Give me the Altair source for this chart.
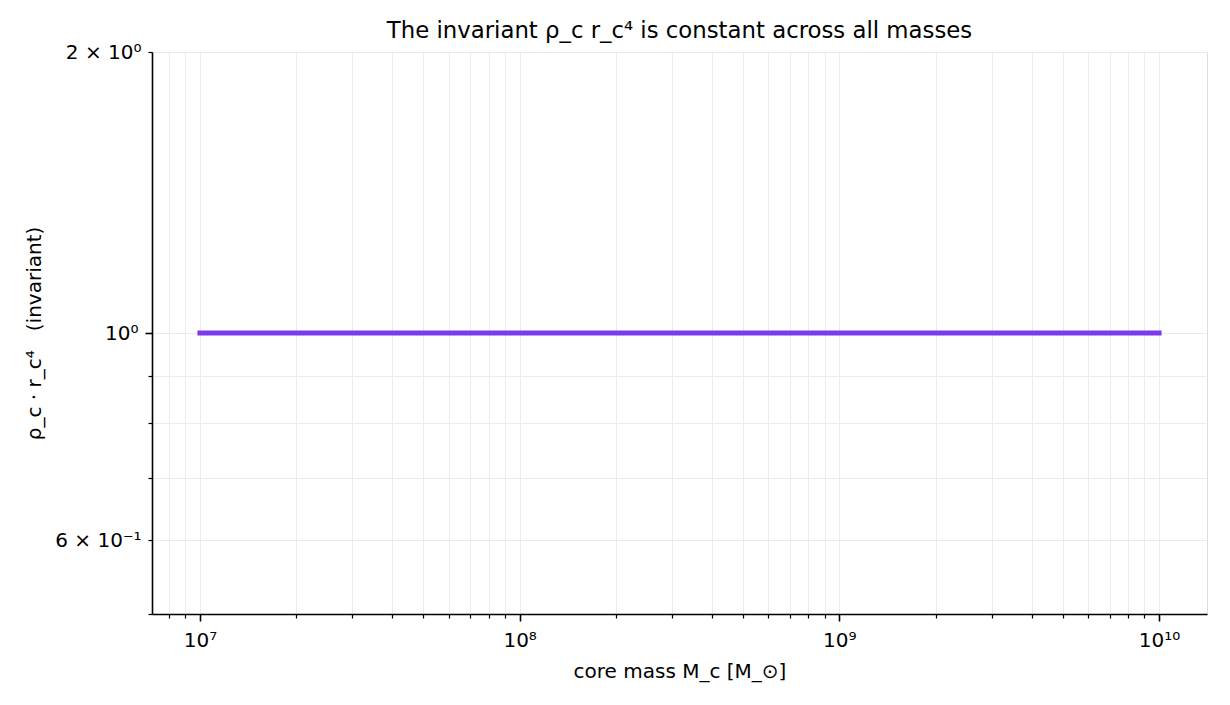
import altair as alt
import pandas as pd

# ---- data ----
core_mass = [1e7, 1e8, 1e9, 1e10]
invariant = [1.0, 1.0, 1.0, 1.0]

x_major = [1e7, 1e8, 1e9, 1e10]
x_major_labels = ["10⁷", "10⁸", "10⁹", "10¹⁰"]
x_minor = [8e6, 9e6,
           2e7, 3e7, 4e7, 5e7, 6e7, 7e7, 8e7, 9e7,
           2e8, 3e8, 4e8, 5e8, 6e8, 7e8, 8e8, 9e8,
           2e9, 3e9, 4e9, 5e9, 6e9, 7e9, 8e9, 9e9]

y_major = [1.0]
y_minor = [0.5, 0.6, 0.7, 0.8, 0.9, 2.0]
y_label_values = [0.6, 1.0, 2.0]
y_label_texts = ["6 × 10⁻¹", "10⁰", "2 × 10⁰"]

x_domain = [7.08e6, 1.4125e10]
y_domain = [0.5, 2.0]

df = pd.DataFrame({"mass": core_mass, "inv": invariant})


def label_expr(vals, texts):
    expr = "''"
    for v, t in reversed(list(zip(vals, texts))):
        expr = f"datum.value == {repr(float(v))} ? '{t}' : ({expr})"
    return expr


def major_test(vals):
    arr = ",".join(repr(float(v)) for v in vals)
    return f"indexof([{arr}], datum.value) >= 0"


FONT = "DejaVu Sans"

x_axis = alt.Axis(
    values=sorted(x_major + x_minor),
    labelExpr=label_expr(x_major, x_major_labels),
    title="core mass M_c [M_⊙]",
    grid=True,
    gridColor="#ebebeb",
    gridWidth=1,
    domainColor="#000000",
    domainWidth=1.6,
    tickColor="#000000",
    tickSize={"condition": {"test": major_test(x_major), "value": 7}, "value": 4},
    tickWidth={"condition": {"test": major_test(x_major), "value": 1.6}, "value": 1.2},
    labelPadding=9,
    labelFontSize=20,
    labelFont=FONT,
    labelColor="#000000",
    labelFlush=False,
    labelOverlap=False,
    titleFontSize=20,
    titleFont=FONT,
    titleFontWeight="normal",
    titleColor="#000000",
    titlePadding=11,
)

y_axis = alt.Axis(
    values=sorted(y_major + y_minor),
    labelExpr=label_expr(y_label_values, y_label_texts),
    title="ρ_c · r_c⁴\u00a0\u00a0 (invariant)",
    grid=True,
    gridColor="#ebebeb",
    gridWidth=1,
    domainColor="#000000",
    domainWidth=1.6,
    tickColor="#000000",
    tickSize={"condition": {"test": major_test(y_major), "value": 7}, "value": 4},
    tickWidth={"condition": {"test": major_test(y_major), "value": 1.6}, "value": 1.2},
    labelPadding=7,
    labelFontSize=20,
    labelFont=FONT,
    labelColor="#000000",
    labelFlush=False,
    labelOverlap=False,
    titleFontSize=20,
    titleFont=FONT,
    titleFontWeight="normal",
    titleColor="#000000",
    titlePadding=10,
)

chart = (
    alt.Chart(df)
    .mark_line(color="#7c3aed", strokeWidth=5, strokeCap="square")
    .encode(
        x=alt.X("mass:Q", scale=alt.Scale(type="log", domain=x_domain, nice=False, zero=False), axis=x_axis),
        y=alt.Y("inv:Q", scale=alt.Scale(type="log", domain=y_domain, nice=False, zero=False), axis=y_axis),
    )
    .properties(
        width=1055,
        height=562,
        title=alt.TitleParams(
            "The invariant ρ_c r_c⁴ is constant across all masses",
            fontSize=22.8,
            font=FONT,
            fontWeight="normal",
            color="#000000",
            anchor="middle",
            baseline="bottom",
            offset=7,
            dy=31,
        ),
        autosize=alt.AutoSizeParams(type="none"),
        padding={"left": 144, "top": 44, "right": 15, "bottom": 83},
    )
    .configure_view(stroke="#000000", strokeWidth=1.6)
    .configure(background="white")
)

chart.save("out.html", embed_options={"renderer": "svg", "actions": False})
